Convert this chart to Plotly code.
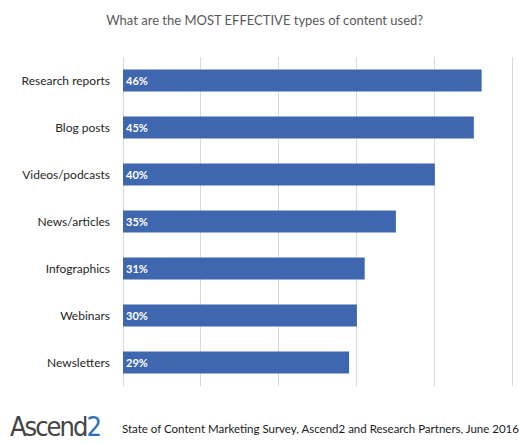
import plotly.graph_objects as go

categories = ["Research reports", "Blog posts", "Videos/podcasts", "News/articles",
              "Infographics", "Webinars", "Newsletters"]
values = [46, 45, 40, 35, 31, 30, 29]
value_labels = [f"{v}%" for v in values]

title_text = "What are the MOST EFFECTIVE types of content used?"
source_text = "State of Content Marketing Survey, Ascend2 and Research Partners, June 2016"

BAR = "#3f67b0"
FONT = "Lato, 'Open Sans', sans-serif"

fig = go.Figure(go.Bar(
    y=categories,
    x=values,
    orientation="h",
    marker=dict(color=BAR, line=dict(width=0)),
    text=value_labels,
    textposition="inside",
    insidetextanchor="start",
    textfont=dict(color="white", size=11, family=FONT, weight="bold"),
    hoverinfo="skip",
))

fig.update_layout(
    width=519, height=443,
    margin=dict(l=123, r=5, t=57, b=57, autoexpand=False),
    paper_bgcolor="white", plot_bgcolor="white",
    showlegend=False,
    bargap=0.53,
    title=dict(text=title_text, x=0.51, xanchor="center", y=1 - 20 / 443, yanchor="middle",
               font=dict(family=FONT, size=13, color="#595959")),
    xaxis=dict(range=[0, 50.15], dtick=10, showgrid=True, gridcolor="#d9d9d9", gridwidth=1,
               showticklabels=False, zeroline=True, zerolinecolor="#d9d9d9", zerolinewidth=1,
               showline=False, fixedrange=True),
    yaxis=dict(autorange="reversed", showgrid=False, ticks="", ticklabelstandoff=12,
               tickfont=dict(family=FONT, size=12, color="#262626"), fixedrange=True,
               showline=False),
    font=dict(family=FONT),
)

fig.add_annotation(
    text="<span style='letter-spacing:-2px'>Ascend<span style='color:#2e6fbf'>2</span></span>",
    xref="paper", yref="paper", x=(8 - 123) / 391, y=(386 - 426) / 329,
    xanchor="left", yanchor="middle", showarrow=False,
    font=dict(family="'DejaVu Sans Condensed', 'DejaVu Sans', sans-serif", size=27, color="#444444"),
)
fig.add_annotation(
    text=source_text,
    xref="paper", yref="paper", x=(120 - 123) / 391, y=(386 - 428) / 329,
    xanchor="left", yanchor="middle", showarrow=False,
    font=dict(family=FONT, size=11.5, color="#1a1a1a"),
)

fig.write_html("out.html", config={"displayModeBar": False},
               post_script="document.body.style.margin='0';")
